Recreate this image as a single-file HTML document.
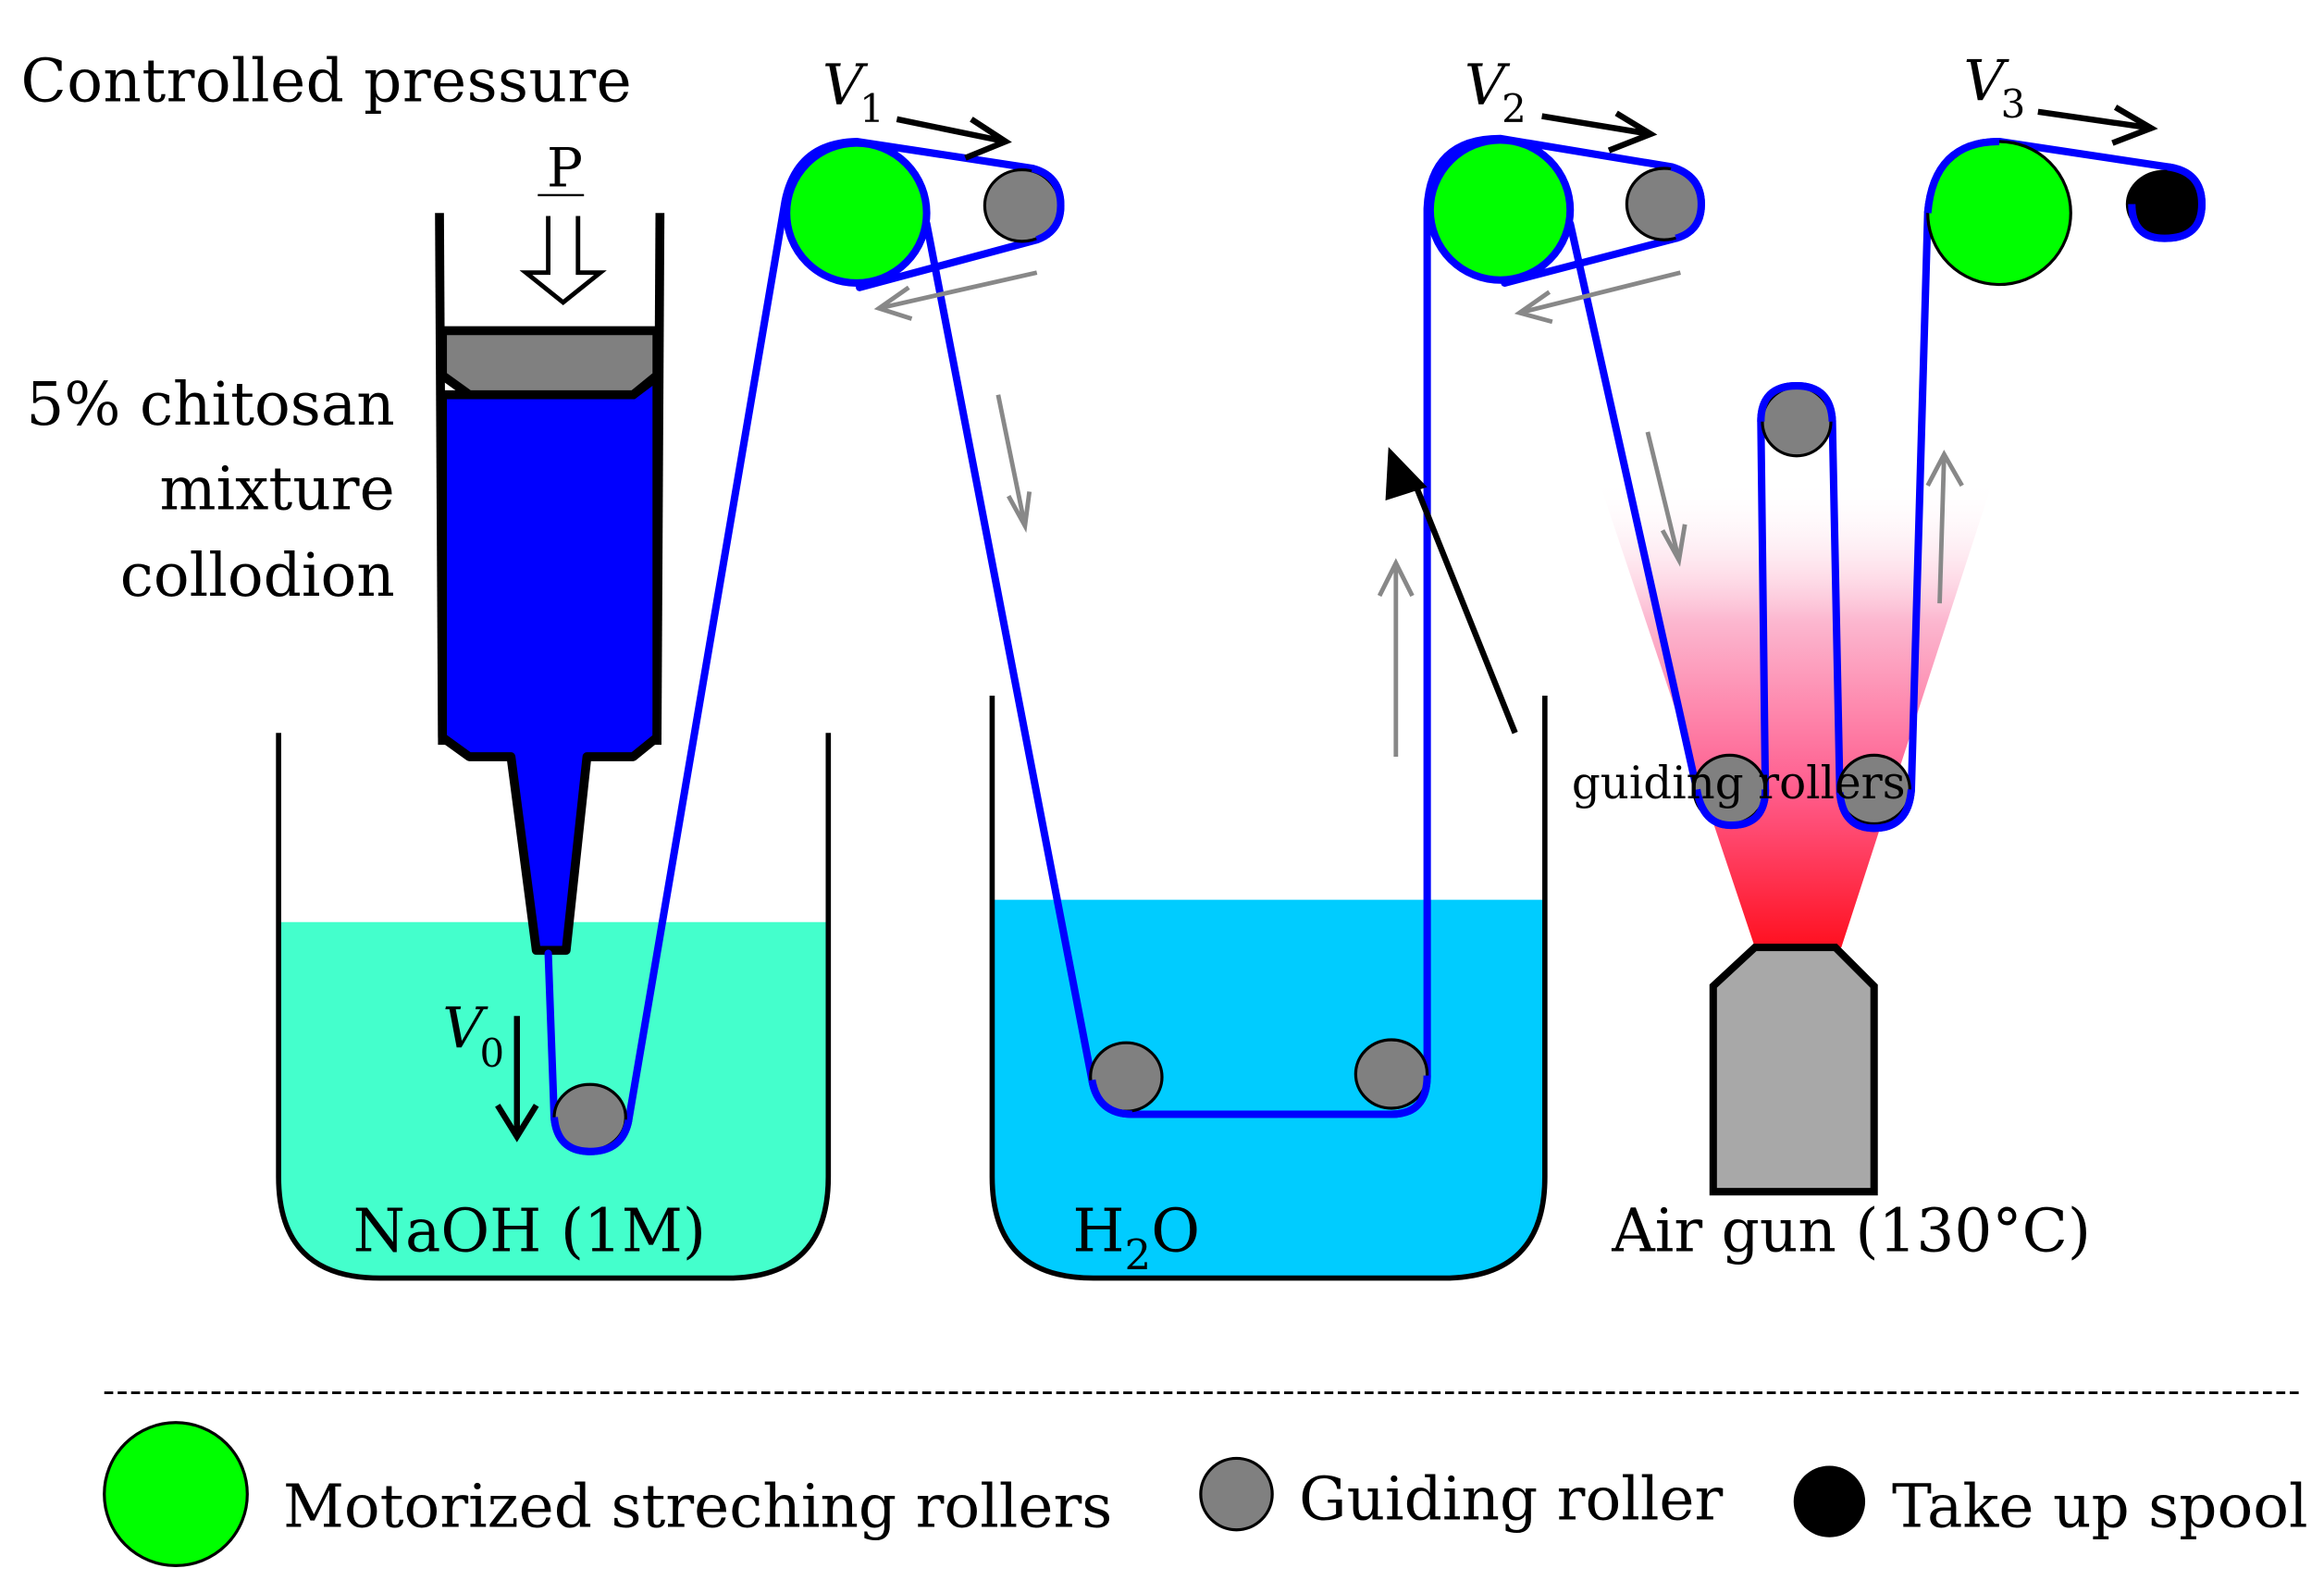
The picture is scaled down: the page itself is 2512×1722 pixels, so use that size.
<!DOCTYPE html>
<html><head><meta charset="utf-8"><style>html,body{margin:0;padding:0;background:#fff}svg{display:block}text{font-family:"DejaVu Serif","Liberation Serif",serif;fill:#000}</style></head><body>
<svg width="2512" height="1722" viewBox="0 0 1560 1069.4" preserveAspectRatio="none" xmlns="http://www.w3.org/2000/svg">
<defs>
<linearGradient id="heat" x1="0" y1="1" x2="0" y2="0">
<stop offset="0" stop-color="#ff1020"/><stop offset="0.35" stop-color="#ff6090"/><stop offset="0.7" stop-color="#fcb8d0"/><stop offset="1" stop-color="#fff" stop-opacity="0"/></linearGradient>
</defs>
<polygon points="1178,636 1236,636 1338,322 1073,322" fill="url(#heat)"/>
<path d="M187,619 H556 V790 Q556,858 488,858 H255 Q187,858 187,790 Z" fill="#44ffcc"/>
<path d="M187,492 V790 Q187,858 255,858 H488 Q556,858 556,790 V492" fill="none" stroke="#000" stroke-width="3.5"/>
<path d="M666,604 H1037 V790 Q1037,858 969,858 H734 Q666,858 666,790 Z" fill="#00ccff"/>
<path d="M666,467 V790 Q666,858 734,858 H969 Q1037,858 1037,790 V467" fill="none" stroke="#000" stroke-width="3.5"/>
<polygon points="297,265 315,265 425,265 441,253 441,495 425,508 394,508 380,638 360,638 343,508 315,508 297,495" fill="#0000ff" stroke="#000" stroke-width="6" stroke-linejoin="round"/>
<polygon points="297,222 441,222 441,252 425,265 315,265 297,252" fill="#808080" stroke="#000" stroke-width="6"/>
<line x1="295" y1="143" x2="297" y2="500" stroke="#000" stroke-width="6"/>
<line x1="443" y1="143" x2="441" y2="500" stroke="#000" stroke-width="6"/>
<text x="367" y="125" font-size="36">P</text>
<line x1="361" y1="131" x2="392" y2="131" stroke="#000" stroke-width="1.5"/>
<path d="M368,145 V183 H353 L378,203 L403,183 H388 V145" fill="#fff" stroke="#000" stroke-width="3"/>
<text x="14" y="68" font-size="40" textLength="410">Controlled pressure</text>
<text x="265" y="285" font-size="40" text-anchor="end">5% chitosan</text>
<text x="265" y="342" font-size="40" text-anchor="end">mixture</text>
<text x="265" y="400" font-size="40" text-anchor="end">collodion</text>
<text x="237" y="840" font-size="40">NaOH (1M)</text>
<text x="720" y="840" font-size="40">H<tspan font-size="28" dy="12">2</tspan><tspan dy="-12">O</tspan></text>
<text x="1082" y="840" font-size="40">Air gun (130°C)</text>
<g fill="none" stroke="#0000ff" stroke-width="5" stroke-linejoin="round" stroke-linecap="round">
<path d="M368,640 L372,750 Q374,773 396,773 Q418,773 422,752 L527,135 Q535,96 575,95 L693,113 Q712,118 712,138 Q712,155 696,161 L577,193"/>
<path d="M622,150 L733,725 Q737,748 760,748 H934 Q958,748 958,722 V140 Q960,93 1007,93 L1122,112 Q1142,118 1142,137 Q1142,155 1125,160 L1010,190"/>
<path d="M1054,150 L1139,530 Q1143,554 1162,554 Q1185,554 1185,530 L1182,283 Q1182,259 1206,259 Q1229,259 1230,283 L1235,532 Q1237,556 1258,556 Q1281,556 1283,530 L1294,143 Q1298,95 1342,95 L1455,112 Q1478,115 1478,137 Q1478,160 1453,160 Q1431,160 1431,137"/>
</g>
<g stroke="#000" stroke-width="2">
<circle cx="575" cy="143" r="47" fill="#00ff00" stroke="#0000ff" stroke-width="5"/>
<ellipse cx="686" cy="138" rx="25" ry="24" fill="#808080"/>
<circle cx="1007" cy="141" r="47" fill="#00ff00" stroke="#0000ff" stroke-width="5"/>
<ellipse cx="1117" cy="137" rx="25" ry="24" fill="#808080"/>
<ellipse cx="1342" cy="143" rx="48" ry="48" fill="#00ff00"/>
<ellipse cx="1453" cy="137" rx="25" ry="22" fill="#000"/>
<ellipse cx="396" cy="750" rx="24" ry="22" fill="#808080"/>
<ellipse cx="756" cy="723" rx="24" ry="23" fill="#808080"/>
<ellipse cx="934" cy="721" rx="24" ry="23" fill="#808080"/>
<ellipse cx="1206" cy="283" rx="23" ry="23" fill="#808080"/>
<ellipse cx="1161" cy="530" rx="24" ry="23" fill="#808080"/>
<ellipse cx="1258" cy="530" rx="24" ry="23" fill="#808080"/>
</g>
<g fill="none" stroke="#0000ff" stroke-width="5">
<path d="M1294,143 Q1298,95 1342,95"/>
<path d="M372,750 Q374,773 396,773 Q418,773 422,752"/>
<path d="M733,725 Q737,748 760,748"/>
<path d="M934,748 Q958,748 958,722"/>
<path d="M1139,530 Q1143,554 1162,554 Q1185,554 1185,530"/>
<path d="M1182,283 Q1182,259 1206,259 Q1229,259 1230,283"/>
<path d="M1235,532 Q1237,556 1258,556 Q1281,556 1283,530"/>
<path d="M693,113 Q712,118 712,138 Q712,155 696,161"/>
<path d="M1122,112 Q1142,118 1142,137 Q1142,155 1125,160"/>
<path d="M1455,112 Q1478,115 1478,137 Q1478,160 1453,160 Q1431,160 1431,137"/>
</g>
<polygon points="1150,662 1178,636 1232,636 1258,662 1258,800 1150,800" fill="#a8a8a8" stroke="#000" stroke-width="5"/>
<text x="1055" y="536" font-size="30">guiding rollers</text>
<g fill="none" stroke="#888" stroke-width="3">
<line x1="696" y1="183" x2="590" y2="207"/><polyline points="610,193 590,207 612,214"/>
<line x1="670" y1="265" x2="688" y2="353"/><polyline points="677,333 688,353 691,330"/>
<line x1="1128" y1="183" x2="1020" y2="210"/><polyline points="1040,196 1020,210 1042,216"/>
<line x1="937" y1="508" x2="937" y2="378"/><polyline points="926,400 937,378 948,400"/>
<line x1="1106" y1="290" x2="1127" y2="376"/><polyline points="1116,356 1127,376 1131,352"/>
<line x1="1302" y1="405" x2="1305" y2="305"/><polyline points="1294,326 1305,305 1317,326"/>
</g>
<g fill="none" stroke="#000" stroke-width="4">
<line x1="602" y1="80" x2="675" y2="95"/><polyline points="652,80 675,95 648,106"/>
<line x1="1035" y1="78" x2="1108" y2="90"/><polyline points="1085,76 1108,90 1080,101"/>
<line x1="1368" y1="75" x2="1444" y2="86"/><polyline points="1420,72 1444,86 1418,96"/>
<line x1="347" y1="682" x2="347" y2="763"/><polyline points="334,742 347,763 360,742"/>
<line x1="1017" y1="492" x2="948" y2="320"/>
</g>
<polygon points="932,300 930,336 958,327" fill="#000"/>
<text x="552" y="70" font-size="38" font-style="italic">V</text><text x="577" y="82" font-size="26">1</text>
<text x="983" y="70" font-size="38" font-style="italic">V</text><text x="1008" y="82" font-size="26">2</text>
<text x="1318" y="67" font-size="38" font-style="italic">V</text><text x="1343" y="79" font-size="26">3</text>
<text x="297" y="703" font-size="38" font-style="italic">V</text><text x="322" y="716" font-size="26">0</text>
<line x1="70" y1="935" x2="1543" y2="935" stroke="#000" stroke-width="1.8" stroke-dasharray="6,3"/>
<circle cx="118" cy="1003" r="48" fill="#00ff00" stroke="#000" stroke-width="2"/>
<text x="190" y="1025" font-size="40">Motorized streching rollers</text>
<circle cx="830" cy="1003" r="24" fill="#808080" stroke="#000" stroke-width="2"/>
<text x="872" y="1020" font-size="40">Guiding roller</text>
<circle cx="1228" cy="1008" r="24" fill="#000"/>
<text x="1270" y="1025" font-size="40">Take up spool</text>
</svg>
</body></html>
